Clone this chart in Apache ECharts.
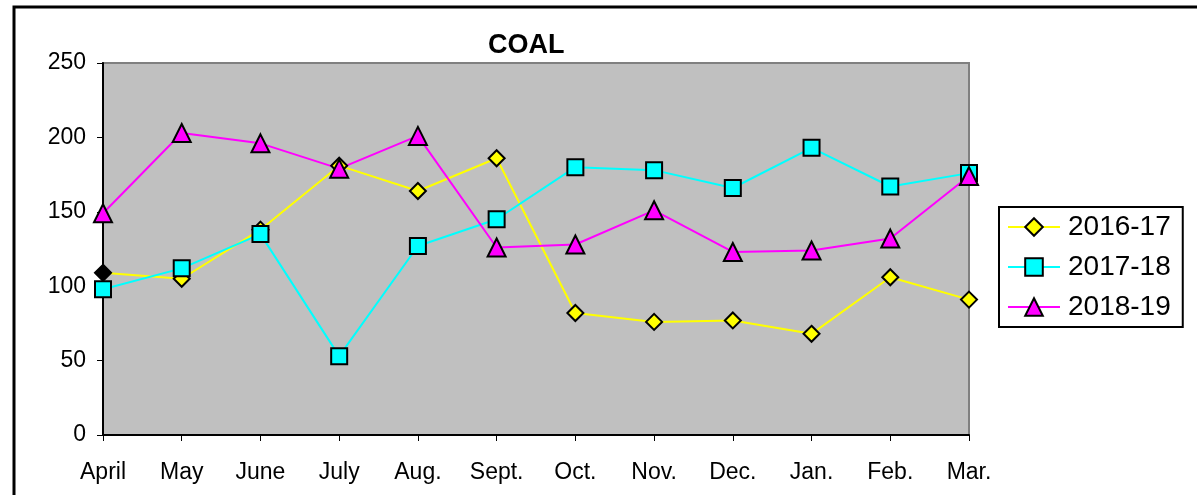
<!DOCTYPE html>
<html style="height: 100%">
<head>
    <meta charset="utf-8">
    <style>
        html,body {
            height: 100%;
            margin: 0;
            padding: 0;
            overflow: hidden;
            background: #fff;
        }
        #container {
            width: 1197px;
            height: 495px;
        }
    </style>
</head>
<body>
    <div id="container"></div>
    <script src="https://cdn.jsdelivr.net/npm/echarts/dist/echarts.min.js"></script>
    <script>
        var months = ['April', 'May', 'June', 'July', 'Aug.', 'Sept.', 'Oct.', 'Nov.', 'Dec.', 'Jan.', 'Feb.', 'Mar.'];
        var coal1617 = [109, 105, 138, 181, 164, 186, 82, 76, 77, 68, 106, 91];
        var coal1718 = [98, 112, 135, 53, 127, 145, 180, 178, 166, 193, 167, 176];
        var coal1819 = [149, 203, 196, 179, 201, 126, 128, 151, 123, 124, 132, 174];

        var font = 'Liberation Sans, Arial, sans-serif';

        // first point of 2016-17 is drawn black in the original
        var yellowData = coal1617.map(function (v, i) {
            if (i === 0) {
                return { value: v, itemStyle: { color: '#000' } };
            }
            return v;
        });

        function makeSeries(name, data, color, symbol, size) {
            return {
                name: name,
                type: 'line',
                data: data,
                symbol: symbol,
                symbolSize: size,
                showAllSymbol: true,
                lineStyle: { color: color, width: 2 },
                itemStyle: { color: color, borderColor: '#000', borderWidth: 2 },
                emphasis: { disabled: true },
                animation: false
            };
        }

        var myChart = echarts.init(document.getElementById('container'));
        var option = {
            animation: false,
            title: {
                text: 'COAL',
                left: 483,
                top: 27,
                textStyle: { fontFamily: font, fontWeight: 'bold', fontSize: 27, color: '#000' }
            },
            graphic: [{
                type: 'rect',
                shape: { x: 14, y: 7, width: 1300, height: 600 },
                style: { fill: 'none', stroke: '#000', lineWidth: 3 },
                silent: true
            }],
            legend: {
                orient: 'vertical',
                left: 999,
                top: 207,
                padding: [6, 12, 6, 8],
                itemGap: 12,
                itemWidth: 52,
                itemHeight: 22,
                borderColor: '#000',
                borderWidth: 2,
                textStyle: { fontFamily: font, fontSize: 28, color: '#000', padding: [0, 0, 0, 3] },
                data: ['2016-17', '2017-18', '2018-19']
            },
            grid: {
                left: 103,
                top: 63,
                right: 228,
                bottom: 60,
                show: true,
                backgroundColor: '#C0C0C0',
                borderColor: '#808080',
                borderWidth: 2
            },
            xAxis: {
                type: 'category',
                data: months,
                boundaryGap: false,
                axisLine: { lineStyle: { color: '#000', width: 2 } },
                axisTick: { show: true, length: 6, lineStyle: { color: '#000' } },
                axisLabel: { fontFamily: font, fontSize: 23, color: '#000', margin: 26 },
                splitLine: { show: false }
            },
            yAxis: {
                type: 'value',
                min: 0,
                max: 250,
                interval: 50,
                axisLine: { show: true, lineStyle: { color: '#000', width: 2 } },
                axisTick: { show: true, length: 6, lineStyle: { color: '#000' } },
                axisLabel: { fontFamily: font, fontSize: 23, color: '#000', margin: 17 },
                splitLine: { show: false }
            },
            series: [
                makeSeries('2016-17', yellowData, '#FFFF00', 'diamond', 16),
                makeSeries('2017-18', coal1718, '#00FFFF', 'rect', 16),
                makeSeries('2018-19', coal1819, '#FF00FF', 'triangle', 18)
            ]
        };
        myChart.setOption(option);
    </script>
</body>
</html>
